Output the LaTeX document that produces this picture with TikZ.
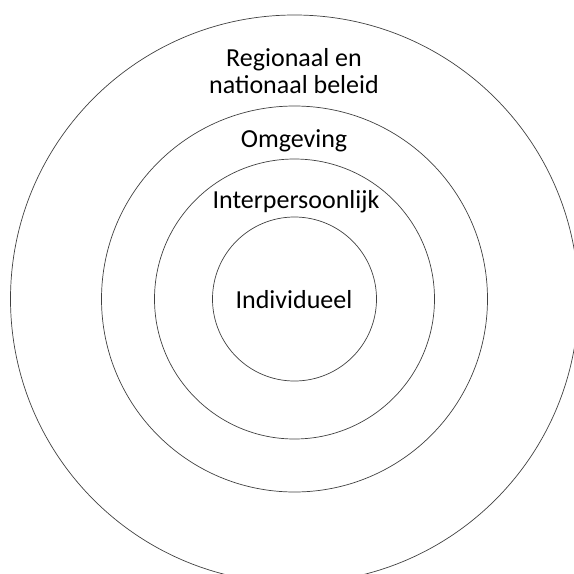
\documentclass[tikz,border=0pt]{standalone}
\usepackage{fontspec}
\setmainfont{Carlito}
\usepackage{tikz}
\tikzset{
    ring/.style={draw=black!75,line width=0.7pt},
    ringlabel/.style={font=\fontsize{26}{26.5}\selectfont,align=center,text=black,anchor=base,inner sep=0pt}
}
\begin{document}
\begin{tikzpicture}[x=1pt,y=-1pt]
\useasboundingbox (0,0) rectangle (574,574);
\coordinate (c) at (294.5,299);
\draw[ring] (c) circle[radius=284];
\draw[ring] (c) circle[radius=193];
\draw[ring] (c) circle[radius=140];
\draw[ring] (c) circle[radius=82];
\node[ringlabel] (beleid) at (294,93) {Regionaal en\\nationaal beleid};
\node[ringlabel] (omgeving) at (294,147) {Omgeving};
\node[ringlabel] (inter) at (296,208) {Interpersoonlijk};
\node[ringlabel] (indiv) at (294,308) {Individueel};
\end{tikzpicture}
\end{document}
